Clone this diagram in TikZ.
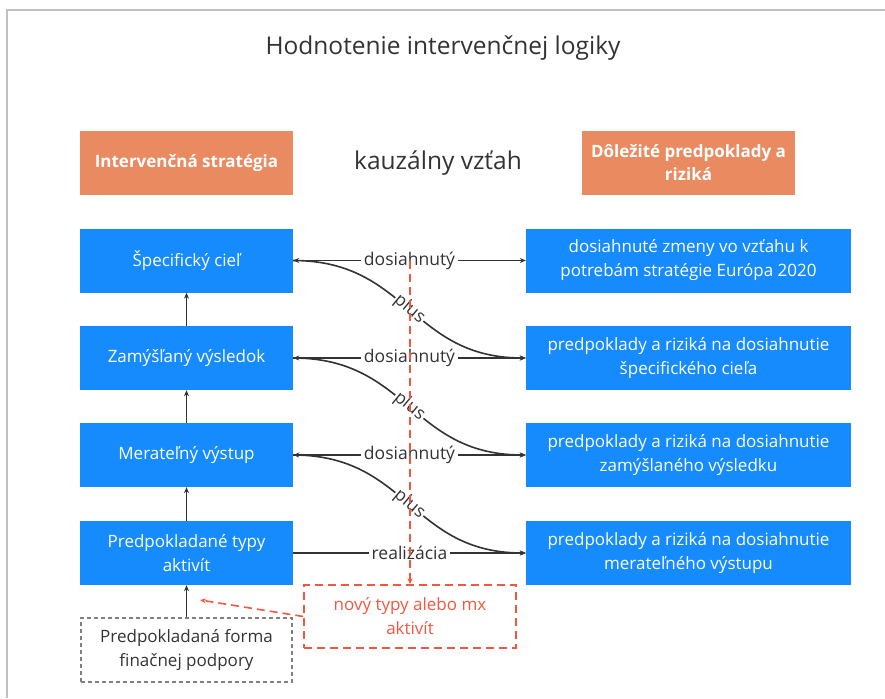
\documentclass[tikz,border=0pt]{standalone}
\usepackage{fontspec}
\setmainfont{Open Sans}
\usetikzlibrary{arrows.meta,calc}
\definecolor{boxblue}{HTML}{168BFD}
\definecolor{hdrorange}{HTML}{E98A60}
\definecolor{redd}{HTML}{F2583E}
\definecolor{ink}{HTML}{333333}
\definecolor{framegray}{HTML}{C0C0C0}
\tikzset{
  bluebox/.style={fill=boxblue,text=white,align=center,inner sep=2pt,
    font=\fontsize{17}{24}\selectfont},
  leftbox/.style={bluebox,minimum width=213pt,minimum height=64pt},
  rightbox/.style={bluebox,minimum width=325pt,minimum height=64pt},
  hdrbox/.style={fill=hdrorange,text=white,align=center,minimum width=213pt,
    minimum height=64pt,font=\fontsize{17}{23}\selectfont\bfseries},
  conn/.style={draw=ink,line width=1.6pt,-{Stealth[length=6pt,width=5pt]}},
  biconn/.style={draw=ink,line width=1.6pt,{Stealth[length=6pt,width=5pt]}-{Stealth[length=6pt,width=5pt]}},
  clabel/.style={fill=white,text=ink,inner sep=3pt,font=\fontsize{17.5}{19}\selectfont},
  pluslabel/.style={fill=white,text=ink,inner sep=1pt,sloped,font=\fontsize{17.5}{19}\selectfont},
  reddash/.style={draw=redd,line width=1.6pt,dash pattern=on 8pt off 5pt,
    -{Stealth[length=6pt,width=5pt]}},
}
\begin{document}
\begin{tikzpicture}[x=1pt,y=-1pt]
\useasboundingbox (0,0) rectangle (885,698);
\draw[framegray,line width=1.6pt] (7,698) -- (7,10) -- (885,10);
\node[text=ink,font=\fontsize{24.5}{28}\selectfont] (title) at (443,48) {Hodnotenie intervenčnej logiky};
\node[hdrbox] (hl) at (186.5,163) {Intervenčná stratégia};
\node[hdrbox] (hr) at (688.5,163) {Dôležité predpoklady a\\riziká};
\node[text=ink,font=\fontsize{24.5}{28}\selectfont] (kauz) at (438,163) {kauzálny vzťah};

\node[leftbox] (L1) at (186.5,260.5) {Špecifický cieľ};
\node[leftbox] (L2) at (186.5,358) {Zamýšľaný výsledok};
\node[leftbox] (L3) at (186.5,455) {Merateľný výstup};
\node[leftbox] (L4) at (186.5,553) {Predpokladané typy\\aktivít};

\node[rightbox] (R1) at (688.5,260.5) {dosiahnuté zmeny vo vzťahu k\\potrebám stratégie Európa 2020};
\node[rightbox] (R2) at (688.5,358) {predpoklady a riziká na dosiahnutie\\špecifického cieľa};
\node[rightbox] (R3) at (688.5,455) {predpoklady a riziká na dosiahnutie\\zamýšlaného výsledku};
\node[rightbox] (R4) at (688.5,553) {predpoklady a riziká na dosiahnutie\\merateľného výstupu};

\node[draw=gray,dash pattern=on 4pt off 3pt,line width=1.2pt,text=ink,align=center,minimum width=211pt,minimum height=64pt,
  font=\fontsize{17}{24}\selectfont] (G) at (186.5,650) {Predpokladaná forma\\finačnej podpory};
\node[draw=redd,line width=1.6pt,dash pattern=on 8pt off 5pt,text=redd,align=center,minimum width=212pt,minimum height=63pt,
  font=\fontsize{17}{24}\selectfont] (RB) at (410,616.5) {nový typy alebo mx\\aktivít};

% vertical arrows
\draw[conn] (L2) -- (L1);
\draw[conn] (L3) -- (L2);
\draw[conn] (L4) -- (L3);
\draw[conn] (G) -- (L4);

% curves
\draw[conn] (L1.east) .. controls +(115,0) and +(-115,0) .. node[pluslabel,pos=0.5] {plus} (R2.west);
\draw[conn] (L2.east) .. controls +(115,0) and +(-115,0) .. node[pluslabel,pos=0.5] {plus} (R3.west);
\draw[conn] (L3.east) .. controls +(115,0) and +(-115,0) .. node[pluslabel,pos=0.5] {plus} (R4.west);

% horizontal
\draw[biconn] (L1.east) -- node[clabel] {dosiahnutý} (R1.west);
\draw[biconn] (L2.east) -- node[clabel] {dosiahnutý} (R2.west);
\draw[biconn] (L3.east) -- node[clabel] {dosiahnutý} (R3.west);
\draw[conn] (L4.east) -- node[clabel] {realizácia} (R4.west);

% red dashed
\coordinate (rtop) at (RB.north |- L1.east);
\coordinate (rend) at (200,600);
\draw[reddash] (rtop) -- (RB.north);
\draw[reddash] (RB.west) -- (rend);
\end{tikzpicture}
\end{document}
